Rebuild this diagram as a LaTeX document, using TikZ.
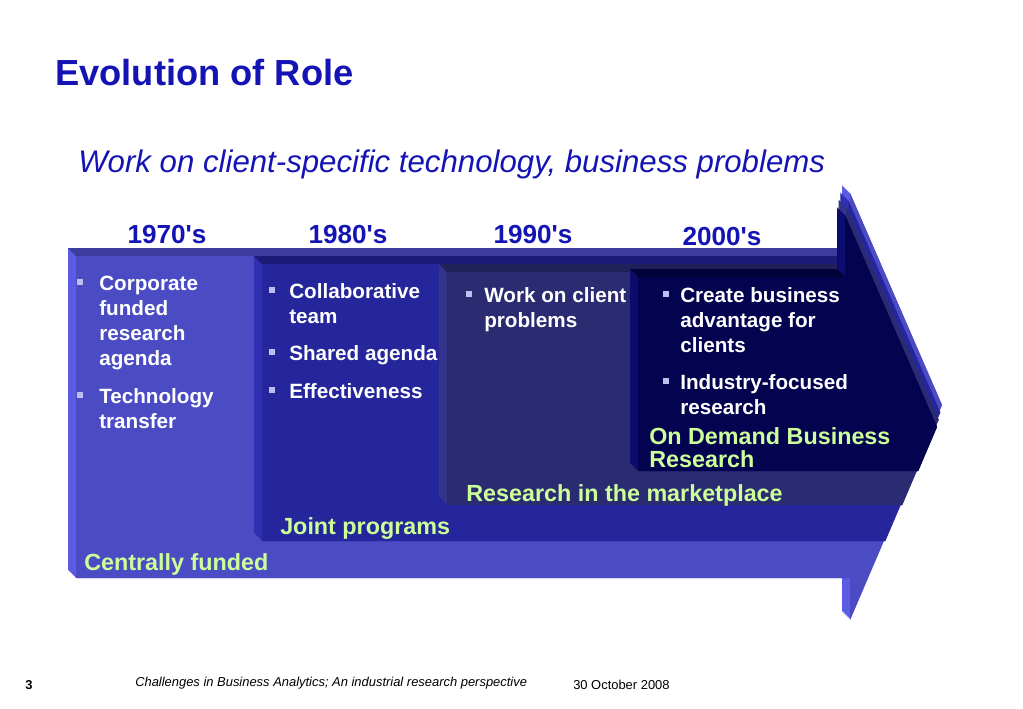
\documentclass[tikz,border=0pt]{standalone}
\usepackage{fontspec}
\setmainfont{Liberation Sans}[Ligatures=TeXOff]
\definecolor{ttl}{RGB}{20,20,180}
\definecolor{grn}{RGB}{204,255,153}
\definecolor{bul}{RGB}{190,190,240}
\definecolor{faceA}{RGB}{75,75,196}
\definecolor{liteA}{RGB}{91,91,227}
\definecolor{darkA}{RGB}{61,61,160}
\definecolor{faceB}{RGB}{37,37,156}
\definecolor{liteB}{RGB}{48,48,180}
\definecolor{darkB}{RGB}{28,28,120}
\definecolor{faceC}{RGB}{43,43,114}
\definecolor{liteC}{RGB}{52,52,138}
\definecolor{darkC}{RGB}{32,32,90}
\definecolor{faceD}{RGB}{3,3,79}
\definecolor{liteD}{RGB}{12,12,110}
\definecolor{darkD}{RGB}{2,2,56}
\newcommand{\shpA}[1]{\fill[#1] (76,256) -- (850,256) -- (850,193) -- (942,405) -- (850,620) -- (850,578) -- (76,578) -- cycle;}
\newcommand{\shpB}[1]{\fill[#1] (262,264) -- (848.3,264) -- (848.3,200.3) -- (940.3,412.3) -- (885.2,541) -- (262,541) -- cycle;}
\newcommand{\shpC}[1]{\fill[#1] (447,272) -- (846.7,272) -- (846.7,207.7) -- (938.7,419.7) -- (902.2,505) -- (447,505) -- cycle;}
\newcommand{\shpD}[1]{\fill[#1] (638,277) -- (845,277) -- (845,215) -- (937,427) -- (918.2,471) -- (638,471) -- cycle;}
\begin{document}
\begin{tikzpicture}[x=0.75pt,y=-0.75pt,
  titletxt/.style={anchor=base west,inner sep=0,text=ttl,font=\fontsize{27.2}{32}\selectfont\bfseries},
  subtxt/.style={anchor=base west,inner sep=0,text=ttl,font=\fontsize{23.4}{28}\selectfont\itshape},
  yeartxt/.style={anchor=base,inner sep=0,text=ttl,font=\fontsize{19.6}{23}\selectfont\bfseries},
  btxt/.style={anchor=base west,inner sep=0,text=white,font=\fontsize{15.5}{18.75}\selectfont\bfseries},
  gtxt/.style={anchor=base west,inner sep=0,text=grn,font=\fontsize{17.5}{21}\selectfont\bfseries},
  foottxt/.style={anchor=base west,inner sep=0,text=black,font=\fontsize{9.7}{12}\selectfont},
  bsq/.style={rectangle,fill=bul,minimum size=4.6pt,inner sep=0}]
\useasboundingbox (0,0) rectangle (1023,708);
\fill[white] (0,0) rectangle (1023,708);
% layer 1970s
\foreach \t in {0,0.5,...,8} {\shpA{liteA,shift={(-\t,-\t)}}}
\fill[darkA] (68,248) -- (842,248) -- (850,256) -- (76,256) -- cycle;
\shpA{faceA}
% layer 1980s
\foreach \t in {0,0.5,...,8} {\shpB{liteB,shift={(-\t,-\t)}}}
\fill[darkB] (254,256) -- (840.3,256) -- (848.3,264) -- (262,264) -- cycle;
\shpB{faceB}
% layer 1990s
\foreach \t in {0,0.5,...,8} {\shpC{liteC,shift={(-\t,-\t)}}}
\fill[darkC] (439,264) -- (838.7,264) -- (846.7,272) -- (447,272) -- cycle;
\shpC{faceC}
% layer 2000s
\foreach \t in {0,0.5,...,8} {\shpD{liteD,shift={(-\t,-\t)}}}
\fill[darkD] (630,269) -- (837,269) -- (845,277) -- (638,277) -- cycle;
\shpD{faceD}
% titles
\node[titletxt] (title) at (55,85) {Evolution of Role};
\node[subtxt] (sub) at (78,172) {Work on client-specific technology, business problems};
\node[yeartxt] (y70) at (167,243) {1970's};
\node[yeartxt] (y80) at (348,243) {1980's};
\node[yeartxt] (y90) at (533,243) {1990's};
\node[yeartxt] (y00) at (722,245) {2000's};
% 1970s bullets
\node[bsq] (qa1) at (80,282) {};
\node[btxt] (ta1) at (99,290) {Corporate};
\node[btxt] (ta2) at (99,315) {funded};
\node[btxt] (ta3) at (99,340) {research};
\node[btxt] (ta4) at (99,365) {agenda};
\node[bsq] (qa2) at (80,395) {};
\node[btxt] (ta5) at (99,403) {Technology};
\node[btxt] (ta6) at (99,428) {transfer};
% 1980s bullets
\node[bsq] (qb1) at (272,290) {};
\node[btxt] (tb1) at (289,298) {Collaborative};
\node[btxt] (tb2) at (289,323) {team};
\node[bsq] (qb2) at (272,352) {};
\node[btxt] (tb3) at (289,360) {Shared agenda};
\node[bsq] (qb3) at (272,390) {};
\node[btxt] (tb4) at (289,398) {Effectiveness};
% 1990s bullets
\node[bsq] (qc1) at (469,294) {};
\node[btxt] (tc1) at (484,302) {Work on client};
\node[btxt] (tc2) at (484,327) {problems};
% 2000s bullets
\node[bsq] (qd1) at (666,294) {};
\node[btxt] (td1) at (680,302) {Create business};
\node[btxt] (td2) at (680,327) {advantage for};
\node[btxt] (td3) at (680,352) {clients};
\node[bsq] (qd2) at (666,381) {};
\node[btxt] (td4) at (680,389) {Industry-focused};
\node[btxt] (td5) at (680,414) {research};
% green labels
\node[gtxt] (ga) at (84,570) {Centrally funded};
\node[gtxt] (gb) at (280,534) {Joint programs};
\node[gtxt] (gc) at (466,501) {Research in the marketplace};
\node[gtxt] (gd1) at (649,444) {On Demand Business};
\node[gtxt] (gd2) at (649,467) {Research};
% footer
\node[foottxt,font=\fontsize{9.7}{12}\selectfont\bfseries] (pg) at (25,689) {3};
\node[foottxt,font=\fontsize{9.7}{12}\selectfont\itshape] (ft) at (135,686) {Challenges in Business Analytics; An industrial research perspective};
\node[foottxt] (dt) at (573,689) {30 October 2008};
\end{tikzpicture}
\end{document}
